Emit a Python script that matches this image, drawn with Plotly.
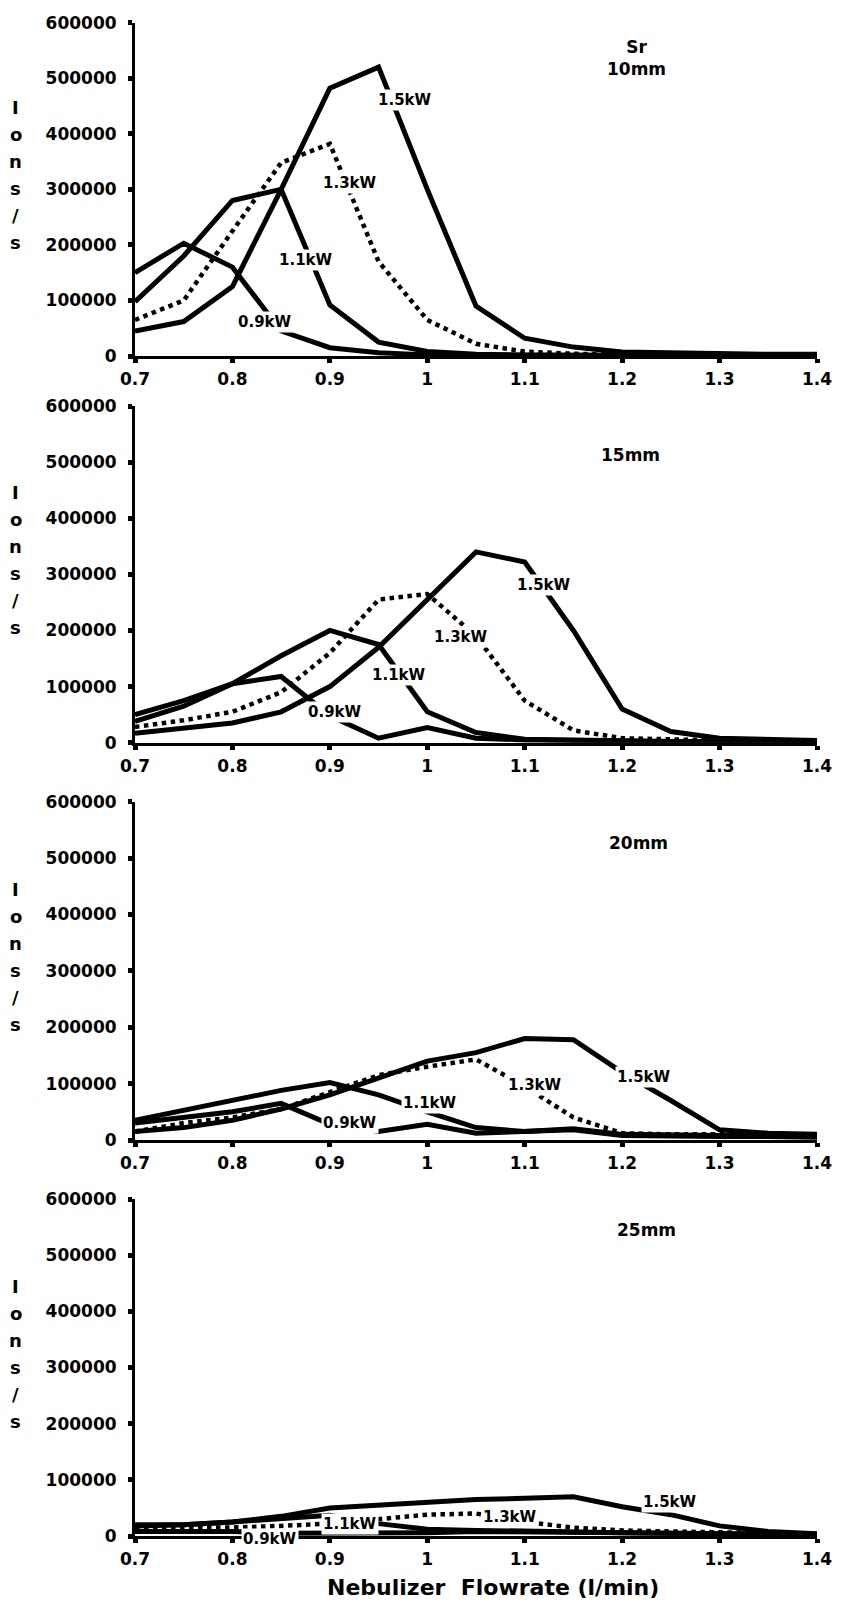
import plotly.graph_objects as go

# ---------------- data ----------------
flow = [0.70, 0.75, 0.80, 0.85, 0.90, 0.95, 1.00, 1.05, 1.10, 1.15, 1.20, 1.25, 1.30, 1.35, 1.40]
x_ticks = [0.7, 0.8, 0.9, 1.0, 1.1, 1.2, 1.3, 1.4]
x_tick_text = ["0.7", "0.8", "0.9", "1", "1.1", "1.2", "1.3", "1.4"]
y_ticks = [0, 100000, 200000, 300000, 400000, 500000, 600000]
powers = ["0.9kW", "1.1kW", "1.3kW", "1.5kW"]
depths = ["Sr<br>10mm", "15mm", "20mm", "25mm"]

d10_09kw = [150000, 203000, 160000, 45000, 15000, 6000, 2000, 1000, 1000, 1000, 1000, 500, 500, 500, 500]
d10_11kw = [98000, 180000, 280000, 300000, 92000, 25000, 8000, 3000, 2000, 1500, 1000, 1000, 1000, 1000, 1000]
d10_13kw = [65000, 100000, 225000, 348000, 382000, 170000, 65000, 22000, 8000, 4000, 3000, 3000, 2000, 2000, 2000]
d10_15kw = [45000, 62000, 125000, 300000, 482000, 520000, 300000, 90000, 32000, 16000, 7000, 5000, 4000, 3000, 3000]

d15_09kw = [50000, 75000, 105000, 118000, 48000, 8000, 27000, 8000, 5000, 3000, 3000, 2000, 2000, 2000, 2000]
d15_11kw = [38000, 65000, 105000, 155000, 200000, 175000, 55000, 18000, 6000, 4000, 3000, 2000, 2000, 2000, 2000]
d15_13kw = [28000, 40000, 55000, 90000, 160000, 255000, 265000, 190000, 75000, 22000, 8000, 5000, 4000, 3000, 2000]
d15_15kw = [17000, 25000, 35000, 55000, 100000, 170000, 255000, 340000, 322000, 200000, 60000, 20000, 8000, 5000, 4000]

d20_09kw = [30000, 40000, 50000, 65000, 28000, 15000, 28000, 12000, 15000, 18000, 8000, 6000, 6000, 6000, 5000]
d20_11kw = [35000, 52000, 70000, 88000, 102000, 80000, 50000, 22000, 15000, 20000, 10000, 8000, 8000, 8000, 8000]
d20_13kw = [15000, 30000, 40000, 55000, 85000, 115000, 130000, 143000, 95000, 40000, 12000, 10000, 10000, 10000, 10000]
d20_15kw = [15000, 22000, 35000, 55000, 80000, 110000, 140000, 155000, 180000, 178000, 120000, 70000, 18000, 12000, 10000]

d25_09kw = [8000, 8000, 8000, 5000, 5000, 6000, 6000, 8000, 8000, 7000, 6000, 5000, 4000, 3000, 2000]
d25_11kw = [20000, 20000, 25000, 32000, 37000, 22000, 12000, 10000, 8000, 8000, 6000, 5000, 5000, 4000, 3000]
d25_13kw = [15000, 15000, 15000, 18000, 22000, 30000, 38000, 40000, 25000, 15000, 10000, 8000, 6000, 5000, 4000]
d25_15kw = [18000, 20000, 25000, 35000, 50000, 55000, 60000, 65000, 67000, 70000, 52000, 38000, 18000, 8000, 4000]

series = [
    [d10_09kw, d10_11kw, d10_13kw, d10_15kw],
    [d15_09kw, d15_11kw, d15_13kw, d15_15kw],
    [d20_09kw, d20_11kw, d20_13kw, d20_15kw],
    [d25_09kw, d25_11kw, d25_13kw, d25_15kw],
]

# curve label positions (x, y, pixel shift) for each panel / power
label_pos = [
    [(0.833, 61000, 0), (0.875, 173000, 0), (0.921, 312000, 0), (0.977, 461000, 0)],
    [(0.905, 55000, 0), (0.971, 121000, 0), (1.035, 189000, 0), (1.120, 281000, 0)],
    [(0.921, 30000, 0), (1.003, 65000, 0), (1.111, 97000, 0), (1.222, 112000, 0)],
    [(0.839, 0, -3), (0.921, 22000, 0), (1.085, 34000, 0), (1.249, 61000, 0)],
]
depth_pos = [(1.215, 536000), (1.209, 513000), (1.217, 527000), (1.225, 545000)]

# ---------------- layout ----------------
W, H = 841, 1604
L, R = 135, 24
panel_px = [(22.7, 356), (406, 742.7), (801.7, 1140), (1199, 1536)]
FONT = "DejaVu Sans"

fig = go.Figure()
annotations = []
layout = dict(
    width=W, height=H, autosize=False,
    margin=dict(l=L, r=R, t=0, b=0, pad=0, autoexpand=False),
    paper_bgcolor="white", plot_bgcolor="white",
    showlegend=False,
    font=dict(family=FONT, color="black"),
)

for i, (top, bot) in enumerate(panel_px):
    n = i + 1
    xa = "x" if n == 1 else f"x{n}"
    ya = "y" if n == 1 else f"y{n}"
    for j, pw in enumerate(powers):
        fig.add_trace(go.Scatter(
            x=flow, y=series[i][j], mode="lines", name=pw,
            xaxis=xa, yaxis=ya,
            line=dict(color="black", width=4.5 if j == 2 else 5,
                      dash="dot" if j == 2 else "solid"),
        ))
        lx, ly, sh = label_pos[i][j]
        annotations.append(dict(
            x=lx, y=ly, xref=xa, yref=ya, text=pw, showarrow=False,
            xanchor="center", yanchor="middle", yshift=sh,
            bgcolor="white", borderpad=1,
            font=dict(family=FONT, size=15, color="black", weight="bold"),
        ))
    dx, dy = depth_pos[i]
    annotations.append(dict(
        x=dx, y=dy, xref=xa, yref=ya, text=depths[i], showarrow=False,
        xanchor="center", yanchor="middle",
        font=dict(family=FONT, size=17, color="black", weight="bold"),
    ))
    # vertical "Ions/s" title, one letter per line
    cy = (top + bot) / 2 - 14
    for k, ch in enumerate(["I", "o", "n", "s", "/", "s"]):
        py = cy + (k - 2.5) * 27
        annotations.append(dict(
            x=(16 - L) / (W - L - R), y=1 - py / H, xref="paper", yref="paper",
            text=ch, showarrow=False, xanchor="center", yanchor="middle",
            font=dict(family=FONT, size=18, color="black", weight="bold"),
        ))

    dom = [1 - bot / H, 1 - top / H]
    axis_common = dict(showline=True, linecolor="black", linewidth=3,
                       showgrid=False, zeroline=False, ticks="outside",
                       tickcolor="black", tickwidth=5, ticklen=4, automargin=False,
                       tickfont=dict(family=FONT, size=17, color="black", weight="bold"))
    layout["xaxis" if n == 1 else f"xaxis{n}"] = dict(
        axis_common, domain=[0, 1], anchor=ya, range=[0.7, 1.4],
        tickvals=x_ticks, ticktext=x_tick_text, ticklabelstandoff=2,
    )
    layout["yaxis" if n == 1 else f"yaxis{n}"] = dict(
        axis_common, domain=dom, anchor=xa, range=[0, 600000],
        tickvals=y_ticks, ticktext=[str(v) for v in y_ticks], ticklabelstandoff=8,
    )

annotations.append(dict(
    x=(493 - L) / (W - L - R), y=1 - 1587 / H, xref="paper", yref="paper",
    text="Nebulizer  Flowrate (l/min)", showarrow=False,
    xanchor="center", yanchor="middle",
    font=dict(family=FONT, size=22, color="black", weight="bold"),
))
layout["annotations"] = annotations
fig.update_layout(**layout)
fig.write_html("out.html")
